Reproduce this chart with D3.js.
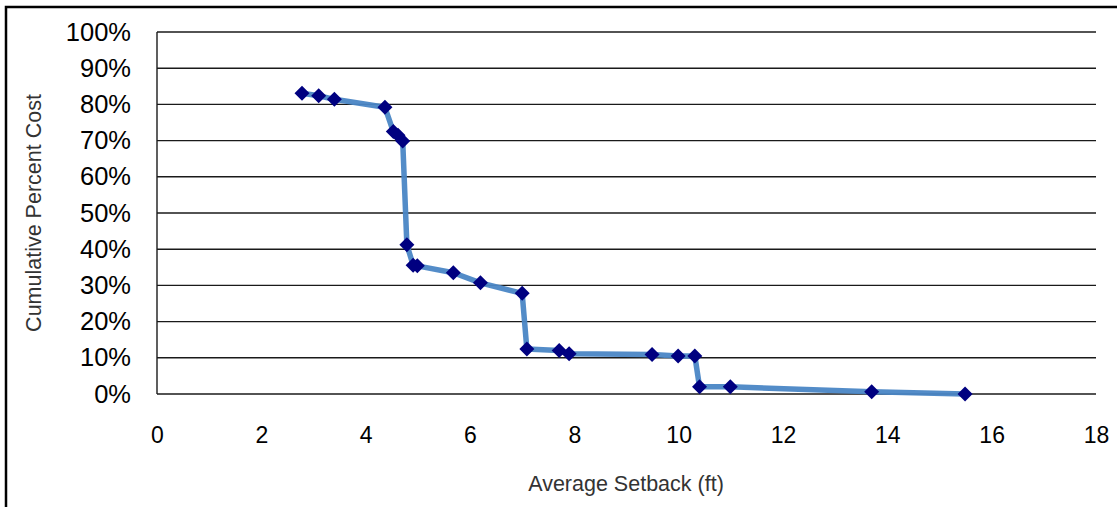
<!DOCTYPE html>
<html><head><meta charset="utf-8">
<script src="https://cdn.jsdelivr.net/npm/d3@7"></script>
<style>
html,body{margin:0;padding:0;background:#fff;}
text{font-family:"Liberation Sans",Arial,sans-serif;}
</style></head>
<body><svg id="c" width="1117" height="507"></svg>
<script>
const setback = [2.78,3.10,3.40,4.37,4.53,4.62,4.71,4.79,4.91,4.99,5.68,6.20,7.00,7.09,7.71,7.90,9.49,9.99,10.31,10.40,10.99,13.70,15.49];
const cumPct  = [83.1,82.4,81.4,79.2,72.5,71.5,69.9,41.2,35.6,35.4,33.5,30.7,27.8,12.4,12.0,11.1,10.9,10.5,10.5,2.0,2.0,0.6,0.0];
const xTicks = [0,2,4,6,8,10,12,14,16,18];
const yTicks = [0,10,20,30,40,50,60,70,80,90,100];
const xTitle = "Average Setback (ft)";
const yTitle = "Cumulative Percent Cost";

const svg = d3.select("#c");
const L=157, R=1096, T=32, B=394;
const x = d3.scaleLinear().domain([0,18]).range([L,R]);
const y = d3.scaleLinear().domain([0,100]).range([B,T]);

// outer border
svg.append("rect").attr("x",6).attr("y",7).attr("width",1130).attr("height",520)
  .attr("fill","none").attr("stroke","#000").attr("stroke-width",2.5);

// gridlines
svg.append("g").selectAll("line").data(yTicks).join("line")
  .attr("x1",L).attr("x2",R).attr("y1",d=>y(d)).attr("y2",d=>y(d))
  .attr("stroke","#1a1a1a").attr("stroke-width",1.4);

// y axis line
svg.append("line").attr("x1",L).attr("x2",L).attr("y1",T).attr("y2",B)
  .attr("stroke","#1a1a1a").attr("stroke-width",1.4);

// y tick labels
const ya = d3.axisLeft(y).tickValues(yTicks).tickFormat(d=>d+"%").tickSize(0).tickPadding(26);
const gy = svg.append("g").attr("transform",`translate(${L},0)`).call(ya);
gy.select(".domain").remove();
gy.selectAll("text").attr("font-size",25.5).attr("fill","#000").attr("font-family","Liberation Sans, Arial, sans-serif");

// x tick labels
const xa = d3.axisBottom(x).tickValues(xTicks).tickFormat(d3.format("d")).tickSize(0).tickPadding(33);
const gx = svg.append("g").attr("transform",`translate(0,${B})`).call(xa);
gx.select(".domain").remove();
gx.selectAll("text").attr("font-size",23).attr("fill","#000").attr("font-family","Liberation Sans, Arial, sans-serif");

// titles
svg.append("text").attr("x",626).attr("y",491).attr("text-anchor","middle")
  .attr("font-size",21.5).attr("fill","#333").text(xTitle);
svg.append("text").attr("transform","translate(41,213) rotate(-90)").attr("text-anchor","middle")
  .attr("font-size",21.5).attr("fill","#333").text(yTitle);

const pts = setback.map((v,i)=>[v,cumPct[i]]);
svg.append("path").datum(pts)
  .attr("d",d3.line().x(d=>x(d[0])).y(d=>y(d[1])))
  .attr("fill","none").attr("stroke","#4a86c5").attr("stroke-width",5.5)
  .attr("stroke-linejoin","round").attr("stroke-opacity",0.95);

svg.append("g").selectAll("path").data(pts).join("path")
  .attr("transform",d=>`translate(${x(d[0])},${y(d[1])})`)
  .attr("d","M0,-7.5L7.5,0L0,7.5L-7.5,0Z")
  .attr("fill","#000080");
</script></body></html>
